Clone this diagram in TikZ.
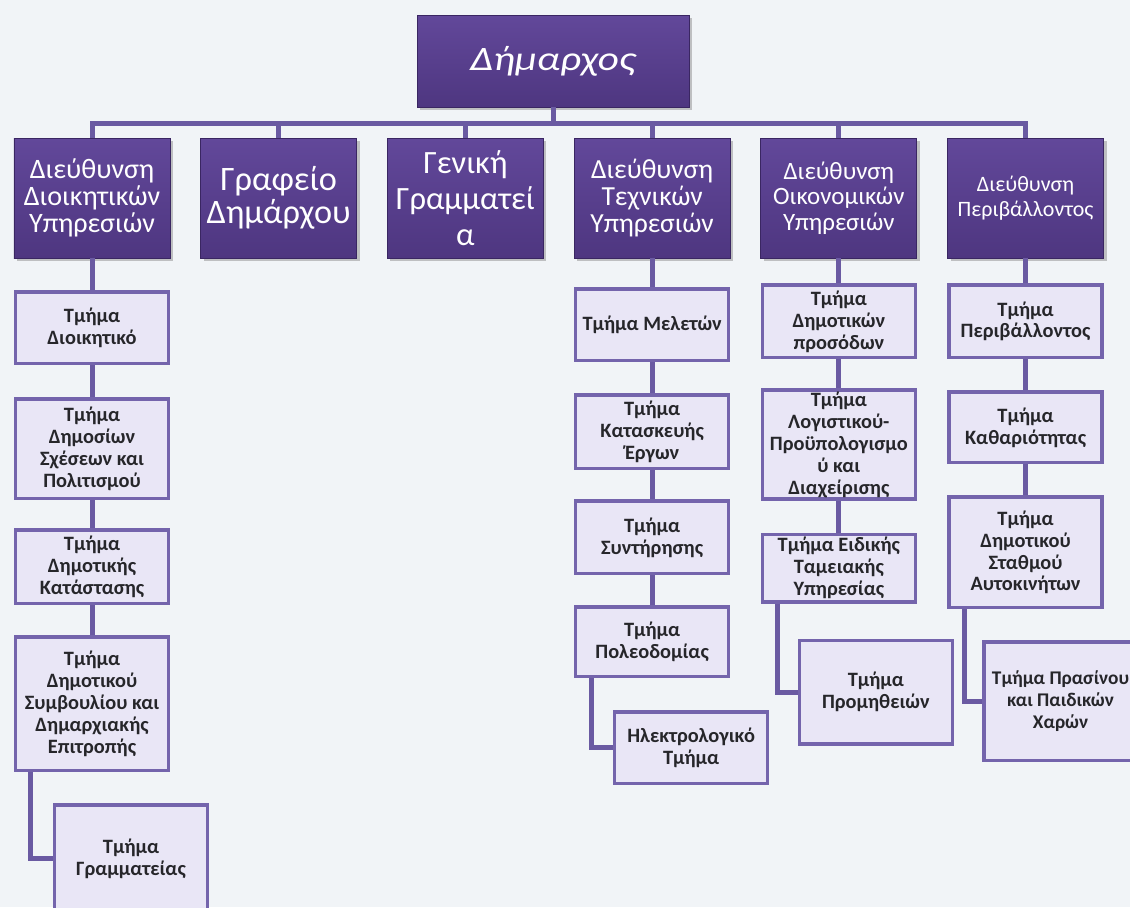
\documentclass[tikz,border=0pt]{standalone}
\usepackage{fontspec}
\setmainfont{Carlito}
\newfontfamily\widefont{Carlito}[FakeStretch=1.2]
\usetikzlibrary{positioning,shadows}

\definecolor{bgcol}{RGB}{241,244,247}
\definecolor{purplelight}{RGB}{98,72,154}
\definecolor{purpledark}{RGB}{78,54,128}
\definecolor{purpleedge}{RGB}{58,38,98}
\definecolor{linkcol}{RGB}{106,90,162}
\definecolor{unitedge}{RGB}{116,100,172}
\definecolor{unitfill}{RGB}{233,230,246}
\definecolor{unittext}{RGB}{38,38,42}

\begin{document}
\begin{tikzpicture}[
		x=0.2mm, y=-0.2mm,
		chief/.style={rectangle, draw=purpleedge, top color=purplelight, bottom color=purpledark, text=white, minimum width=54.4mm, minimum height=18.4mm, drop shadow={opacity=0.45, shadow xshift=0.6mm, shadow yshift=-0.6mm}},
		block/.style={rectangle, draw=purpleedge, top color=purplelight, bottom color=purpledark, text=white, align=center, minimum width=31.2mm, minimum height=24mm, inner sep=0.5mm, drop shadow={opacity=0.45, shadow xshift=0.6mm, shadow yshift=-0.6mm}},
		unit/.style={rectangle, draw=unitedge, fill=unitfill, line width=0.7mm, text=unittext, align=center, minimum width=30.6mm, inner sep=0.3mm, font=\bfseries\fontsize{11.6}{12.5}\selectfont},
		link/.style={draw=linkcol, line width=1mm},
		]
		\useasboundingbox (0,0) rectangle (1130,907);
		\fill[bgcol] (0,0) rectangle (1130,907);
		\clip (0,0) rectangle (1130,907);

		%Main Nodes
		\node[chief, font=\widefont\itshape\fontsize{19.5}{22}\selectfont]	(mayor)	at (553,61)	{Δήμαρχος};
		\node[block, font=\fontsize{16}{15.5}\selectfont]	(dir_1)	at (92,198)	{Διεύθυνση\\Διοικητικών\\Υπηρεσιών};
		\node[block, font=\fontsize{19.5}{19}\selectfont]	(dir_2)	[right=6mm of dir_1]	{Γραφείο\\Δημάρχου};
		\node[block, font=\fontsize{18.5}{20.4}\selectfont]	(dir_3)	[right=6mm of dir_2]	{Γενική\\Γραμματεί\\α};
		\node[block, font=\fontsize{15.7}{15.5}\selectfont]	(dir_4)	[right=6mm of dir_3]	{Διεύθυνση\\Τεχνικών\\Υπηρεσιών};
		\node[block, font=\fontsize{14.2}{14.5}\selectfont]	(dir_5)	[right=6mm of dir_4]	{Διεύθυνση\\Οικονομικών\\Υπηρεσιών};
		\node[block, font=\fontsize{12.5}{14.5}\selectfont]	(dir_6)	[right=6mm of dir_5]	{Διεύθυνση\\Περιβάλλοντος};

		%Main Lines
		\coordinate	(bus)	at (553,123);
		\draw[link]	(mayor.south)	--	(bus);
		\draw[link]	(dir_1.north)	|-	(bus)	-|	(dir_6.north);
		\draw[link]	(dir_2.north)	--	(dir_2.north |- bus);
		\draw[link]	(dir_3.north)	--	(dir_3.north |- bus);
		\draw[link]	(dir_4.north)	--	(dir_4.north |- bus);
		\draw[link]	(dir_5.north)	--	(dir_5.north |- bus);

		%Administrative Services
		\node[unit, minimum height=14.3mm]	(adm_1)	[below=6.4mm of dir_1]	{Τμήμα\\Διοικητικό};
		\node[unit, minimum height=19.9mm]	(adm_2)	[below=6.4mm of adm_1]	{Τμήμα\\Δημοσίων\\Σχέσεων και\\Πολιτισμού};
		\node[unit, minimum height=14.7mm]	(adm_3)	[below=5.6mm of adm_2]	{Τμήμα\\Δημοτικής\\Κατάστασης};
		\node[unit, minimum height=26.7mm]	(adm_4)	[below=6mm of adm_3]	{Τμήμα\\Δημοτικού\\Συμβουλίου και\\Δημαρχιακής\\Επιτροπής};
		\node[unit, minimum height=21.3mm]	(adm_5)	[below right=6.2mm and 7.8mm of adm_4.south west]	{Τμήμα\\Γραμματείας};
		\draw[link]	(dir_1.south)	--	(adm_1.north);
		\draw[link]	(adm_1.south)	--	(adm_2.north);
		\draw[link]	(adm_2.south)	--	(adm_3.north);
		\draw[link]	(adm_3.south)	--	(adm_4.north);
		\draw[link]	([xshift=3.4mm]adm_4.south west)	|-	(adm_5.west);

		%Technical Services
		\node[unit, minimum height=14.3mm]	(tech_1)	[below=5.8mm of dir_4]	{Τμήμα Μελετών};
		\node[unit, minimum height=14.7mm]	(tech_2)	[below=6.2mm of tech_1]	{Τμήμα\\Κατασκευής\\Έργων};
		\node[unit, minimum height=14.5mm]	(tech_3)	[below=5.8mm of tech_2]	{Τμήμα\\Συντήρησης};
		\node[unit, minimum height=13.9mm]	(tech_4)	[below=6mm of tech_3]	{Τμήμα\\Πολεοδομίας};
		\node[unit, minimum height=14.3mm]	(tech_5)	[below right=6.4mm and 7.8mm of tech_4.south west]	{Ηλεκτρολογικό\\Τμήμα};
		\draw[link]	(dir_4.south)	--	(tech_1.north);
		\draw[link]	(tech_1.south)	--	(tech_2.north);
		\draw[link]	(tech_2.south)	--	(tech_3.north);
		\draw[link]	(tech_3.south)	--	(tech_4.north);
		\draw[link]	([xshift=3.6mm]tech_4.south west)	|-	(tech_5.west);

		%Financial Services
		\node[unit, minimum height=14.5mm]	(fin_1)	[below=5mm of dir_5]	{Τμήμα\\Δημοτικών\\προσόδων};
		\node[unit, minimum height=21.7mm]	(fin_2)	[below=5.8mm of fin_1]	{Τμήμα\\Λογιστικού-\\Προϋπολογισμο\\ύ και\\Διαχείρισης};
		\node[unit, minimum height=13.5mm]	(fin_3)	[below=6.4mm of fin_2]	{Τμήμα Ειδικής\\Ταμειακής\\Υπηρεσίας};
		\node[unit, minimum height=20.7mm]	(fin_4)	[below right=7mm and 7.4mm of fin_3.south west]	{Τμήμα\\Προμηθειών};
		\draw[link]	(dir_5.south)	--	(fin_1.north);
		\draw[link]	(fin_1.south)	--	(fin_2.north);
		\draw[link]	(fin_2.south)	--	(fin_3.north);
		\draw[link]	([xshift=3.4mm]fin_3.south west)	|-	(fin_4.west);

		%Environment
		\node[unit, minimum height=14.5mm]	(env_1)	[below=5mm of dir_6]	{Τμήμα\\Περιβάλλοντος};
		\node[unit, minimum height=14.1mm]	(env_2)	[below=6.2mm of env_1]	{Τμήμα\\Καθαριότητας};
		\node[unit, minimum height=22.1mm]	(env_3)	[below=6.2mm of env_2]	{Τμήμα\\Δημοτικού\\Σταθμού\\Αυτοκινήτων};
		\node[unit, minimum height=23.7mm, font=\bfseries\fontsize{11}{12.5}\selectfont]	(env_4)	[below right=6.2mm and 7mm of env_3.south west]	{Τμήμα Πρασίνου\\και Παιδικών\\Χαρών};
		\draw[link]	(dir_6.south)	--	(env_1.north);
		\draw[link]	(env_1.south)	--	(env_2.north);
		\draw[link]	(env_2.south)	--	(env_3.north);
		\draw[link]	([xshift=3.4mm]env_3.south west)	|-	(env_4.west);

	\end{tikzpicture}
\end{document}
